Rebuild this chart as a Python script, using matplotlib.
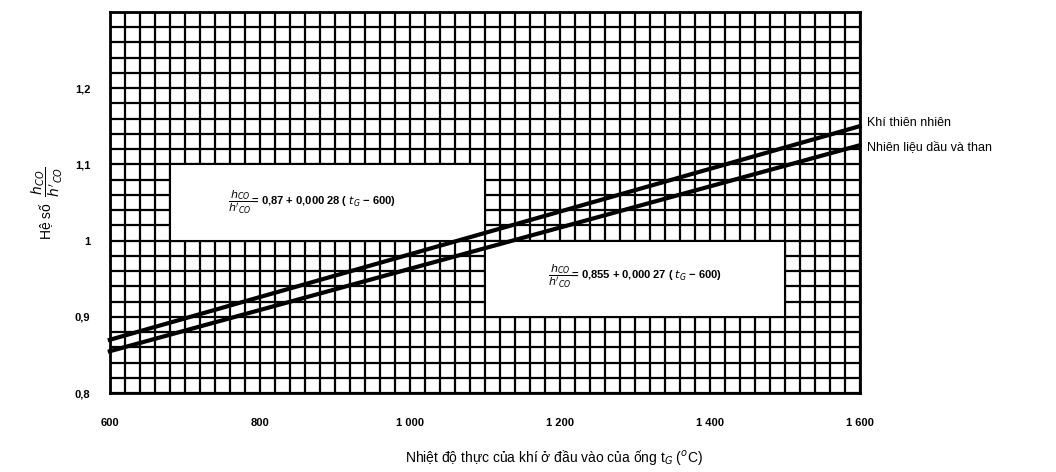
import numpy as np
import matplotlib.pyplot as plt
from matplotlib.patches import Rectangle

plt.rcParams['font.family'] = ['Liberation Sans', 'DejaVu Sans']

# dữ liệu
t = [600, 1600]
khi_thien_nhien = [0.87, 1.15]
dau_va_than = [0.855, 1.125]
x_ticks = [600, 800, 1000, 1200, 1400, 1600]
x_labels = ['600', '800', '1 000', '1 200', '1 400', '1 600']
y_ticks = [0.8, 0.9, 1.0, 1.1, 1.2]
y_labels = ['0,8', '0,9', '1', '1,1', '1,2']
series_names = ['Khí thiên nhiên', 'Nhiên liệu dầu và than']

fig = plt.figure(figsize=(10.56, 4.72), dpi=100)
ax = fig.add_axes([0.104, 0.167, 0.71, 0.808])
ax.set_xlim(600, 1600)
ax.set_ylim(0.8, 1.3)

ax.set_xticks(x_ticks)
ax.set_xticklabels(x_labels, fontsize=8, fontweight='bold')
ax.set_yticks(y_ticks)
ax.set_yticklabels(y_labels, fontsize=8, fontweight='bold')
ax.set_xticks(np.arange(600, 1601, 20), minor=True)
ax.set_yticks(np.arange(0.8, 1.301, 0.02), minor=True)
ax.tick_params(which='both', length=0)
ax.tick_params(axis='x', pad=18)
ax.tick_params(axis='y', pad=14)
ax.grid(which='both', color='black', lw=1.6)
for s in ax.spines.values():
    s.set_linewidth(2)

# hộp công thức
ax.add_patch(Rectangle((680, 1.0), 420, 0.1, facecolor='white', edgecolor='black', lw=1.5, zorder=2))
ax.add_patch(Rectangle((1100, 0.9), 400, 0.1, facecolor='white', edgecolor='black', lw=1.5, zorder=2))
ax.text(870, 1.05, r"$\dfrac{h_{CO}}{h'_{CO}}$= 0,87 + 0,000 28 ( $t_G$ − 600)",
        ha='center', va='center', fontsize=8, fontweight='bold', zorder=3)
ax.text(1300, 0.953, r"$\dfrac{h_{CO}}{h'_{CO}}$= 0,855 + 0,000 27 ( $t_G$ − 600)",
        ha='center', va='center', fontsize=8, fontweight='bold', zorder=3)

ax.plot(t, khi_thien_nhien, color='black', lw=3, zorder=4, clip_on=False)
ax.plot(t, dau_va_than, color='black', lw=3, zorder=4, clip_on=False)

ax.text(1610, khi_thien_nhien[1] + 0.004, series_names[0], fontsize=9, va='center')
ax.text(1610, dau_va_than[1] - 0.003, series_names[1], fontsize=9, va='center')

fig.text(0.525, 0.03, r"Nhiệt độ thực của khí ở đầu vào của ống t$_G$ ($^{o}$C)",
         ha='center', va='center', fontsize=10)
fig.text(0.045, 0.57, r"Hệ số  $\dfrac{h_{CO}}{h'_{CO}}$", rotation=90,
         ha='center', va='center', fontsize=10)

fig.savefig('out.png', dpi=100)
